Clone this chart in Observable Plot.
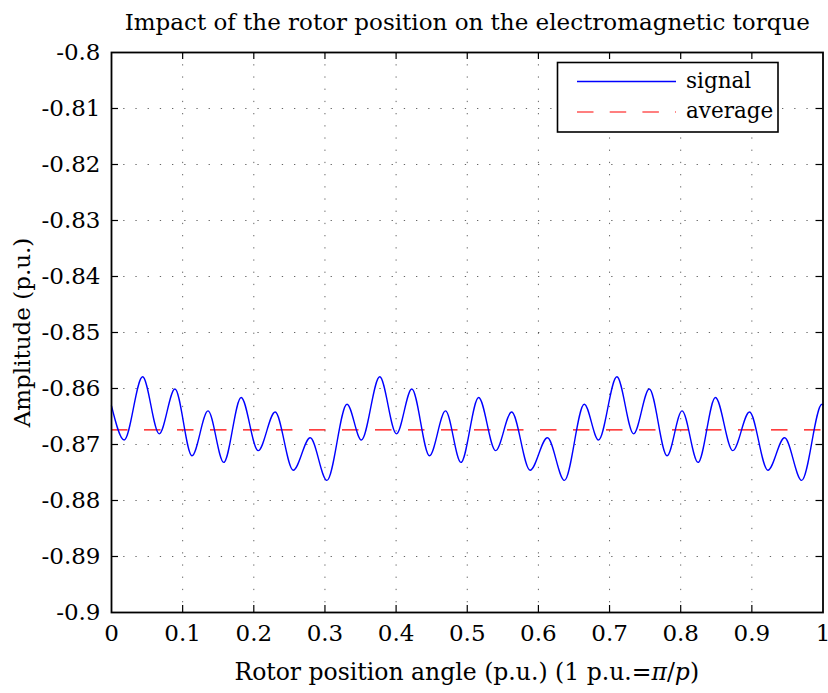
<!DOCTYPE html>
<html>
<head>
<meta charset="utf-8">
<script src="https://cdn.jsdelivr.net/npm/d3@7"></script>
<script src="https://cdn.jsdelivr.net/npm/@observablehq/plot@0.6"></script>
<style>
  html, body { margin: 0; padding: 0; background: white; }
  #chart { width: 828px; height: 693px; position: relative; }
</style>
</head>
<body>
<div id="chart"></div>
<script>
// ---- data ----
const titleText = "Impact of the rotor position on the electromagnetic torque";
const yLabelText = "Amplitude (p.u.)";
const xTicks = [0, 0.1, 0.2, 0.3, 0.4, 0.5, 0.6, 0.7, 0.8, 0.9, 1];
const yTicks = [-0.9, -0.89, -0.88, -0.87, -0.86, -0.85, -0.84, -0.83, -0.82, -0.81, -0.8];
const seriesNames = ["signal", "average"];
const averageValue = -0.8674;
// local extrema of the signal curve (x in p.u., amplitude in p.u.)
const signalX = [0, 0.0178, 0.0437, 0.0671, 0.0892, 0.1131, 0.1357, 0.1577, 0.1822, 0.2061, 0.2300, 0.2554, 0.2793, 0.3028, 0.3310,
  0.3512, 0.3770, 0.4005, 0.4221, 0.4469, 0.4695, 0.4911, 0.5160, 0.5399, 0.5624, 0.5883, 0.6127, 0.6366, 0.6645,
  0.6845, 0.7103, 0.7338, 0.7559, 0.7808, 0.8019, 0.8244, 0.8488, 0.8732, 0.8967, 0.9225, 0.9460, 0.9700, 0.9986, 1.0];
const signalY = [-0.8631, -0.8692, -0.8579, -0.8681, -0.8601, -0.8720, -0.8640, -0.8732, -0.8616, -0.8711, -0.8642, -0.8746, -0.8688, -0.8764, -0.8628,
  -0.8692, -0.8579, -0.8681, -0.8601, -0.8720, -0.8640, -0.8732, -0.8616, -0.8711, -0.8642, -0.8746, -0.8688, -0.8764, -0.8628,
  -0.8692, -0.8579, -0.8681, -0.8601, -0.8720, -0.8640, -0.8732, -0.8616, -0.8711, -0.8642, -0.8746, -0.8688, -0.8764, -0.8628, -0.8629];

const signal = signalX.map((x, i) => ({x, y: signalY[i]}));

// ---- layout ----
const W = 828, H = 693;
const mL = 111, mR = 5.5, mT = 52, mB = 81;
const plotW = W - mL - mR, plotH = H - mT - mB;
const FONT = "DejaVu Serif";
const FS = 23;
const tickLen = 7;
const fmt = d => String(+d.toFixed(2));
const innerX = xTicks.slice(1, -1), innerY = yTicks.slice(1, -1);
const gridStyle = {stroke: "#000", strokeOpacity: 0.6, strokeWidth: 1, strokeDasharray: "1.3,10.9"};

const chart = Plot.plot({
  width: W, height: H,
  marginLeft: mL, marginRight: mR, marginTop: mT, marginBottom: mB,
  style: {fontFamily: FONT, fontSize: FS + "px", background: "white", color: "black", overflow: "visible"},
  x: {domain: [0, 1]},
  y: {domain: [-0.9, -0.8]},
  marks: [
    Plot.gridX(innerX, gridStyle),
    Plot.gridY(innerY, gridStyle),
    Plot.ruleY([averageValue], {stroke: "#ff0000", strokeWidth: 1.2, strokeDasharray: "16.5,16.5"}),
    Plot.line(signal, {x: "x", y: "y", stroke: "#0000ff", strokeWidth: 1.4, curve: "monotone-x"}),
    // inward ticks on all four sides
    Plot.ruleX(innerX, {stroke: "#000", strokeWidth: 1.2, insetTop: plotH - tickLen}),
    Plot.ruleX(innerX, {stroke: "#000", strokeWidth: 1.2, insetBottom: plotH - tickLen}),
    Plot.ruleY(innerY, {stroke: "#000", strokeWidth: 1.2, insetRight: plotW - tickLen}),
    Plot.ruleY(innerY, {stroke: "#000", strokeWidth: 1.2, insetLeft: plotW - tickLen}),
    Plot.frame({stroke: "#000", strokeWidth: 1.8}),
    Plot.axisX(xTicks, {anchor: "bottom", tickSize: 0, tickPadding: 12, tickFormat: fmt, label: null, fontSize: FS, fill: "#000"}),
    Plot.axisY(yTicks, {anchor: "left", tickSize: 0, tickPadding: 11, tickFormat: fmt, label: null, fontSize: FS, fill: "#000"}),
    Plot.text([titleText], {frameAnchor: "top", dy: -39, fontSize: FS, fill: "#000"}),
    Plot.text([yLabelText], {frameAnchor: "left", textAnchor: "middle", dx: -89, rotate: -90, fontSize: FS, fill: "#000"})
  ]
});

const svg = d3.select(chart);
// x axis label with italic symbols
const xl = svg.append("text")
  .attr("x", mL + plotW / 2).attr("y", H - 13)
  .attr("text-anchor", "middle")
  .attr("font-family", FONT).attr("font-size", 23.5).attr("fill", "#000");
xl.append("tspan").text("Rotor position angle (p.u.) (1 p.u.=");
xl.append("tspan").attr("font-style", "italic").text("π");
xl.append("tspan").text("/");
xl.append("tspan").attr("font-style", "italic").text("p");
xl.append("tspan").text(")");

// legend
const lg = svg.append("g").attr("font-family", FONT).attr("font-size", 21.5).attr("text-anchor", "start");
lg.append("rect").attr("x", 557.5).attr("y", 62.5).attr("width", 220.5).attr("height", 69.5)
  .attr("fill", "white").attr("stroke", "#000").attr("stroke-width", 1.6);
lg.append("line").attr("x1", 577).attr("x2", 676).attr("y1", 81.5).attr("y2", 81.5)
  .attr("stroke", "#0000ff").attr("stroke-width", 1.4);
lg.append("line").attr("x1", 577).attr("x2", 676).attr("y1", 112).attr("y2", 112)
  .attr("stroke", "#ff0000").attr("stroke-width", 1.2).attr("stroke-dasharray", "16.5,16.2");
lg.append("text").attr("x", 686).attr("y", 88).attr("fill", "#000").attr("text-anchor", "start").text(seriesNames[0]);
lg.append("text").attr("x", 686).attr("y", 118).attr("fill", "#000").attr("text-anchor", "start").text(seriesNames[1]);

document.getElementById("chart").appendChild(chart);
</script>
</body>
</html>
